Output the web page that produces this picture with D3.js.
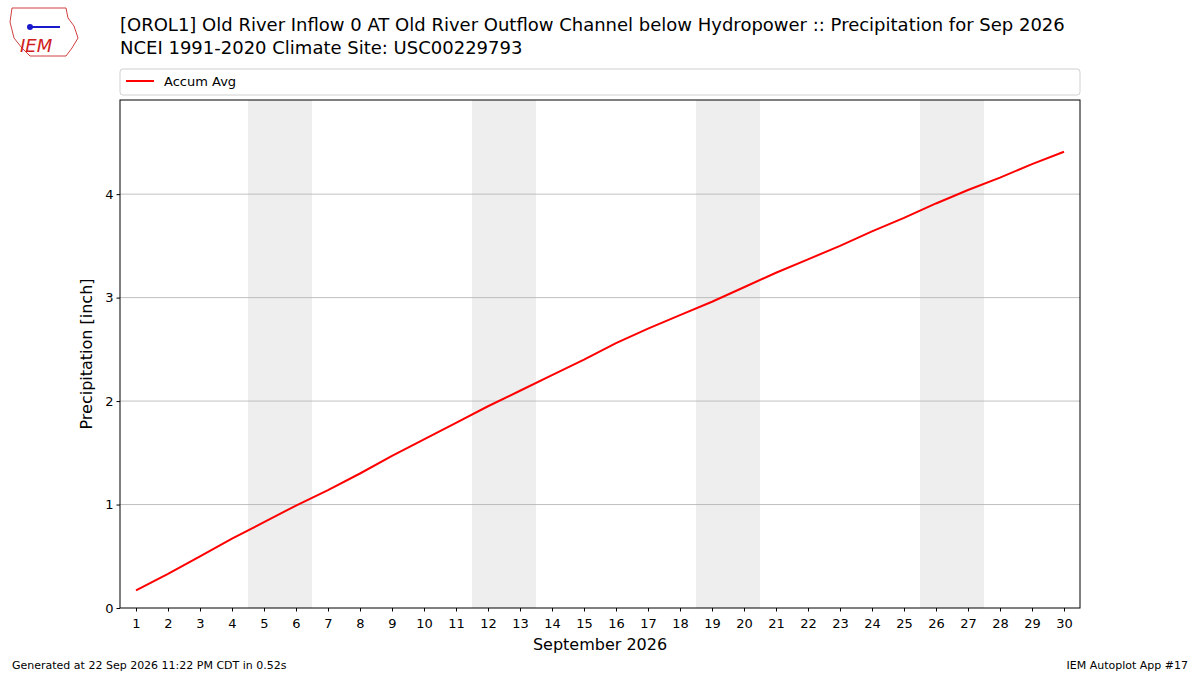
<!DOCTYPE html>
<html><head><meta charset="utf-8">
<script src="https://cdn.jsdelivr.net/npm/d3@7"></script>
<style>body{margin:0;background:#fff}text{font-family:"DejaVu Sans",sans-serif}</style>
</head><body><svg id="c" width="1200" height="675"></svg>
<script>
const days = d3.range(1,31);
const accumAvg = [0.17,0.33,0.50,0.67,0.83,0.99,1.14,1.30,1.47,1.63,1.79,1.95,2.10,2.25,2.40,2.56,2.70,2.83,2.96,3.10,3.24,3.37,3.50,3.64,3.77,3.91,4.04,4.16,4.29,4.41];
const weekends = [[4.5,6.5],[11.5,13.5],[18.5,20.5],[25.5,27.5]];
const yTicks = [0,1,2,3,4];
const titleLines = ["[OROL1] Old River Inflow 0 AT Old River Outflow Channel below Hydropower :: Precipitation for Sep 2026","NCEI 1991-2020 Climate Site: USC00229793"];

const svg = d3.select("#c");
const L=120,R=1080,T=100,B=608;
const x = d3.scaleLinear().domain([0.5,30.5]).range([L,R]);
const y = d3.scaleLinear().domain([0,4.91]).range([B,T]);

svg.selectAll(".wk").data(weekends).enter().append("rect")
 .attr("x",d=>x(d[0])).attr("width",d=>x(d[1])-x(d[0])).attr("y",T).attr("height",B-T).attr("fill","#eeeeee");
svg.selectAll(".gl").data(yTicks.slice(1)).enter().append("line")
 .attr("x1",L).attr("x2",R).attr("y1",d=>y(d)).attr("y2",d=>y(d)).attr("stroke","#b0b0b0").attr("stroke-width",0.8);

const gx = svg.append("g").attr("transform",`translate(0,${B})`).call(d3.axisBottom(x).tickValues(days).tickFormat(d3.format("d")).tickSize(3.5).tickSizeOuter(0));
const gy = svg.append("g").attr("transform",`translate(${L},0)`).call(d3.axisLeft(y).tickValues(yTicks).tickFormat(d3.format("d")).tickSize(3.5).tickSizeOuter(0));
[gx,gy].forEach(g=>{g.select(".domain").remove();g.selectAll("text").attr("font-size",13).attr("fill","#000").attr("font-family","DejaVu Sans");g.selectAll("line").attr("stroke","#000");});
gx.selectAll("text").attr("dy","1.0em");

svg.append("path").datum(accumAvg).attr("fill","none").attr("stroke","red").attr("stroke-width",2)
 .attr("d",d3.line().x((d,i)=>x(days[i])).y(d=>y(d)));
svg.append("rect").attr("x",L).attr("y",T).attr("width",R-L).attr("height",B-T).attr("fill","none").attr("stroke","#000").attr("stroke-width",1);

svg.append("text").attr("x",600).attr("y",650).attr("text-anchor","middle").attr("font-size",16).text("September 2026");
svg.append("text").attr("transform",`translate(92,${(T+B)/2}) rotate(-90)`).attr("text-anchor","middle").attr("font-size",16).text("Precipitation [inch]");

svg.selectAll(".tt").data(titleLines).enter().append("text").attr("x",120).attr("y",(d,i)=>31+i*23).attr("font-size",18).text(d=>d);

svg.append("rect").attr("x",120).attr("y",69).attr("width",960).attr("height",26).attr("rx",3).attr("fill","#fff").attr("stroke","#d0d0d0");
svg.append("line").attr("x1",126).attr("x2",154).attr("y1",81).attr("y2",81).attr("stroke","red").attr("stroke-width",2);
svg.append("text").attr("x",164).attr("y",86).attr("font-size",13).text("Accum Avg");

svg.append("text").attr("x",12).attr("y",669).attr("font-size",11).text("Generated at 22 Sep 2026 11:22 PM CDT in 0.52s");
svg.append("text").attr("x",1188).attr("y",669).attr("text-anchor","end").attr("font-size",11).text("IEM Autoplot App #17");

svg.append("path").attr("d","M12,8 L66,8 L68,18 L74,26 L78,38 L72,48 L66,56 L30,56 L22,48 L14,38 L10,22 Z").attr("fill","none").attr("stroke","#d04040").attr("stroke-width",1);
svg.append("line").attr("x1",28).attr("x2",60).attr("y1",27).attr("y2",27).attr("stroke","#1a1acc").attr("stroke-width",2);
svg.append("circle").attr("cx",30).attr("cy",27).attr("r",3).attr("fill","#1a1acc");
svg.append("text").attr("x",20).attr("y",52).attr("font-size",18).attr("font-style","italic").attr("font-family","Liberation Serif").attr("fill","#d02020").text("IEM");
</script></body></html>
